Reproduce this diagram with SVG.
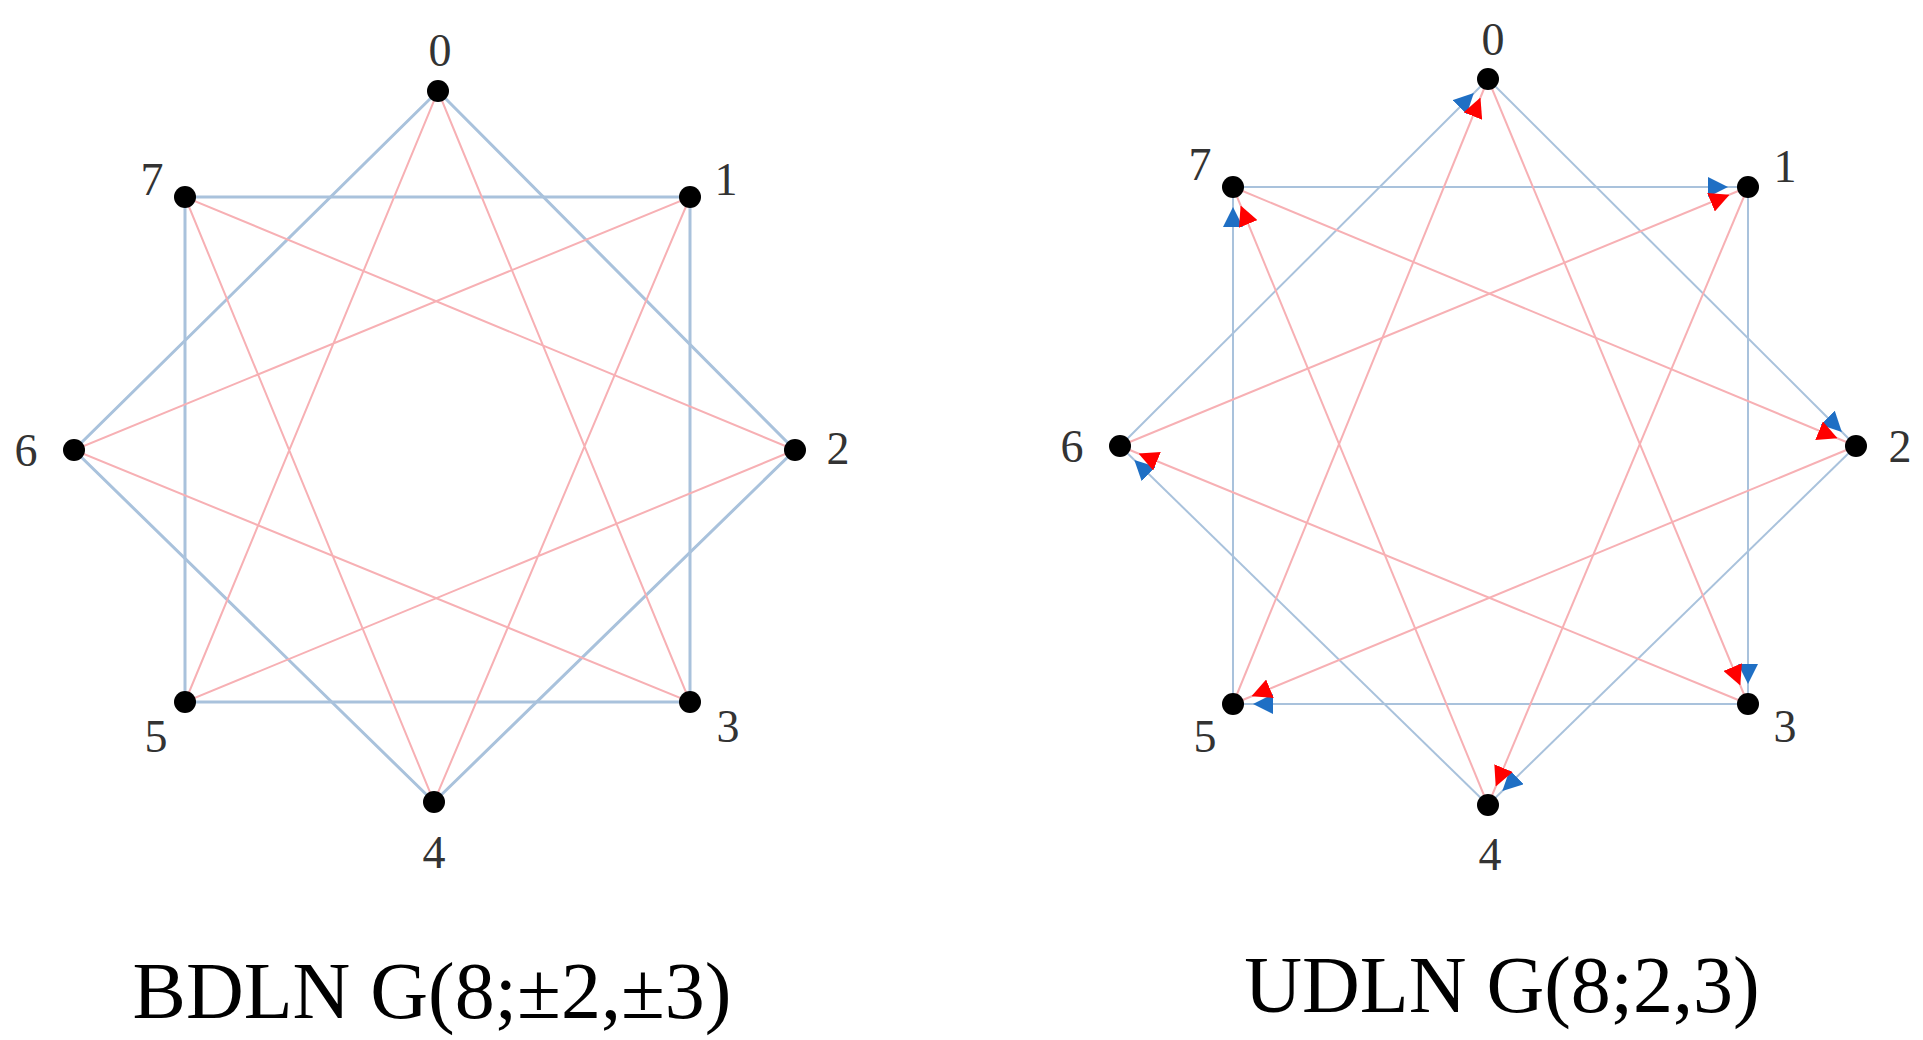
<svg xmlns="http://www.w3.org/2000/svg" width="1923" height="1040" viewBox="0 0 1923 1040">
<style>
.b{stroke:#a9c2dc;stroke-width:3;fill:none}
.r{stroke:#f7b0b4;stroke-width:2;fill:none}
.bd{stroke:#a9c2dc;stroke-width:2;fill:none}
.n{fill:#000}
.t{font-family:"Liberation Serif",serif;font-size:46px;fill:#333;text-anchor:middle}
.h{font-family:"Liberation Serif",serif;font-size:80px;fill:#000;text-anchor:middle}
</style>
<defs>
<marker id="ab" viewBox="0 0 10 10" refX="20" refY="5" markerWidth="20" markerHeight="20" markerUnits="userSpaceOnUse" orient="auto"><path d="M0,0L10,5L0,10z" fill="#1f6fc4"/></marker>
<marker id="ar" viewBox="0 0 10 10" refX="20" refY="5" markerWidth="20" markerHeight="20" markerUnits="userSpaceOnUse" orient="auto"><path d="M0,0L10,5L0,10z" fill="#f00"/></marker>
</defs>
<g id="connectors">
<g id="left-edges">
<path class="b" d="M438,91L795,450L434,802L74,450Z"/>
<path class="b" d="M690,197L690,702L185,702L185,197Z"/>
<path class="r" d="M438,91L690,702L74,450L690,197L434,802L185,197L795,450L185,702Z"/>
</g>
<g id="right-edges">
<line class="bd" x1="1488" y1="79" x2="1856" y2="446" marker-end="url(#ab)"/>
<line class="bd" x1="1748" y1="187" x2="1748" y2="704" marker-end="url(#ab)"/>
<line class="bd" x1="1856" y1="446" x2="1488" y2="805" marker-end="url(#ab)"/>
<line class="bd" x1="1748" y1="704" x2="1233" y2="704" marker-end="url(#ab)"/>
<line class="bd" x1="1488" y1="805" x2="1120" y2="446" marker-end="url(#ab)"/>
<line class="bd" x1="1233" y1="704" x2="1233" y2="187" marker-end="url(#ab)"/>
<line class="bd" x1="1120" y1="446" x2="1488" y2="79" marker-end="url(#ab)"/>
<line class="bd" x1="1233" y1="187" x2="1748" y2="187" marker-end="url(#ab)"/>
<line class="r" x1="1488" y1="79" x2="1748" y2="704" marker-end="url(#ar)"/>
<line class="r" x1="1748" y1="187" x2="1488" y2="805" marker-end="url(#ar)"/>
<line class="r" x1="1856" y1="446" x2="1233" y2="704" marker-end="url(#ar)"/>
<line class="r" x1="1748" y1="704" x2="1120" y2="446" marker-end="url(#ar)"/>
<line class="r" x1="1488" y1="805" x2="1233" y2="187" marker-end="url(#ar)"/>
<line class="r" x1="1233" y1="704" x2="1488" y2="79" marker-end="url(#ar)"/>
<line class="r" x1="1120" y1="446" x2="1748" y2="187" marker-end="url(#ar)"/>
<line class="r" x1="1233" y1="187" x2="1856" y2="446" marker-end="url(#ar)"/>
</g>
</g>
<g id="L0"><circle class="n" cx="438" cy="91" r="11"/><text class="t" x="440" y="66">0</text></g>
<g id="L1"><circle class="n" cx="690" cy="197" r="11"/><text class="t" x="726" y="195">1</text></g>
<g id="L2"><circle class="n" cx="795" cy="450" r="11"/><text class="t" x="838" y="464">2</text></g>
<g id="L3"><circle class="n" cx="690" cy="702" r="11"/><text class="t" x="728" y="742">3</text></g>
<g id="L4"><circle class="n" cx="434" cy="802" r="11"/><text class="t" x="434" y="868">4</text></g>
<g id="L5"><circle class="n" cx="185" cy="702" r="11"/><text class="t" x="156" y="752">5</text></g>
<g id="L6"><circle class="n" cx="74" cy="450" r="11"/><text class="t" x="26" y="466">6</text></g>
<g id="L7"><circle class="n" cx="185" cy="197" r="11"/><text class="t" x="152" y="195">7</text></g>
<g id="R0"><circle class="n" cx="1488" cy="79" r="11"/><text class="t" x="1493" y="55">0</text></g>
<g id="R1"><circle class="n" cx="1748" cy="187" r="11"/><text class="t" x="1785" y="182">1</text></g>
<g id="R2"><circle class="n" cx="1856" cy="446" r="11"/><text class="t" x="1900" y="462">2</text></g>
<g id="R3"><circle class="n" cx="1748" cy="704" r="11"/><text class="t" x="1785" y="742">3</text></g>
<g id="R4"><circle class="n" cx="1488" cy="805" r="11"/><text class="t" x="1490" y="870">4</text></g>
<g id="R5"><circle class="n" cx="1233" cy="704" r="11"/><text class="t" x="1205" y="752">5</text></g>
<g id="R6"><circle class="n" cx="1120" cy="446" r="11"/><text class="t" x="1072" y="462">6</text></g>
<g id="R7"><circle class="n" cx="1233" cy="187" r="11"/><text class="t" x="1200" y="180">7</text></g>
<text class="h" x="432" y="1018">BDLN G(8;±2,±3)</text>
<text class="h" x="1502" y="1012">UDLN G(8;2,3)</text>
</svg>
